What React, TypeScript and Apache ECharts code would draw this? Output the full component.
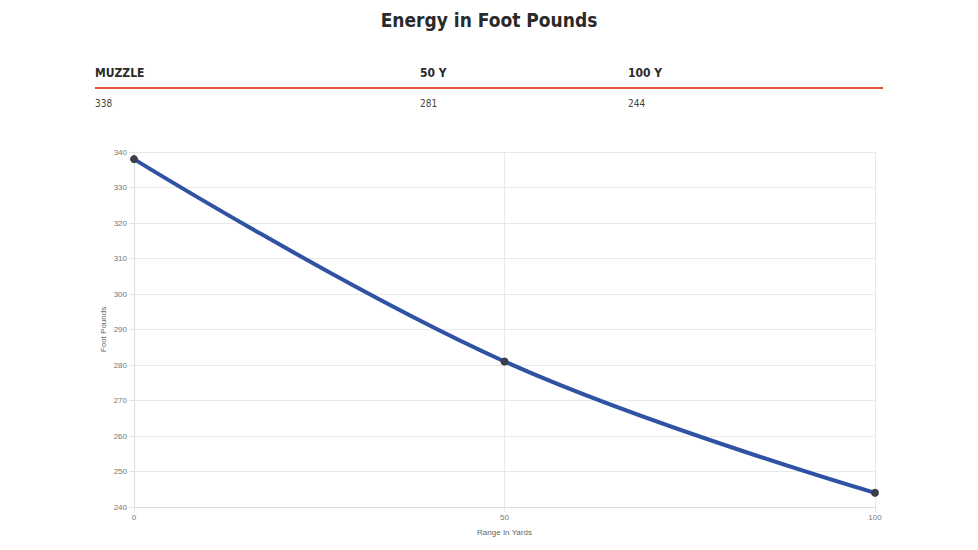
import React, { useEffect, useRef } from "react";
import * as echarts from "echarts";

const ranges = [0, 50, 100];
const energy = [338, 281, 244];
const headerLabels = ["MUZZLE", "50 Y", "100 Y"];
const headerValues = ["338", "281", "244"];
const headerX = [95, 420, 628];

export default function App() {
  const ref = useRef<HTMLDivElement>(null);
  useEffect(() => {
    if (!ref.current) return;
    const chart = echarts.init(ref.current, undefined, { renderer: "svg" });
    const condensed = "'DejaVu Sans Condensed', 'DejaVu Sans', sans-serif";
    const sans = "Liberation Sans, Arial, sans-serif";
    const graphics: any[] = [
      {
        type: "text",
        left: "center",
        top: 10,
        style: {
          text: "Energy in Foot Pounds",
          font: `bold 19px ${condensed}`,
          fill: "#2a2a2a",
        },
      },
      {
        type: "rect",
        shape: { x: 95, y: 87, width: 788, height: 2 },
        style: { fill: "#e1523d" },
      },
    ];
    headerLabels.forEach((h, i) => {
      graphics.push({
        type: "text",
        x: headerX[i],
        y: 67,
        style: { text: h, font: `bold 12px ${condensed}`, fill: "#2a2a2a" },
      });
      graphics.push({
        type: "text",
        x: headerX[i],
        y: 98,
        style: { text: headerValues[i], font: `10px ${condensed}`, fill: "#444" },
      });
    });
    chart.setOption({
      animation: false,
      backgroundColor: "#fff",
      graphic: graphics,
      grid: { left: 134, right: 103, top: 152, bottom: 43 },
      xAxis: {
        type: "value",
        min: 0,
        max: 100,
        interval: 50,
        name: "Range In Yards",
        nameLocation: "middle",
        nameGap: 21,
        nameTextStyle: { color: "#666", fontSize: 8, fontFamily: sans },
        axisLine: { show: true, lineStyle: { color: "#ddd" } },
        axisTick: { show: true, length: 5, lineStyle: { color: "#e6e6e6" } },
        axisLabel: { color: "#777", fontSize: 8, margin: 6, fontFamily: sans },
        splitLine: { show: true, lineStyle: { color: "#e9e9e9" } },
      },
      yAxis: {
        type: "value",
        min: 240,
        max: 340,
        interval: 10,
        name: "Foot Pounds",
        nameLocation: "middle",
        nameGap: 27,
        nameMoveOverlap: false,
        nameTextStyle: { color: "#666", fontSize: 8, fontFamily: sans },
        axisLine: { show: true, lineStyle: { color: "#ddd" } },
        axisTick: { show: true, length: 5, lineStyle: { color: "#e6e6e6" } },
        axisLabel: { color: "#777", fontSize: 8, margin: 7, fontFamily: sans },
        splitLine: { show: true, lineStyle: { color: "#e9e9e9" } },
      },
      series: [
        {
          type: "line",
          data: ranges.map((r, i) => [r, energy[i]]),
          smooth: 0.4,
          symbol: "circle",
          symbolSize: 8,
          itemStyle: { color: "#3a3f4a" },
          lineStyle: { color: "#2f52a3", width: 4 },
          z: 3,
        },
      ],
    });
    return () => chart.dispose();
  }, []);
  return (
    <div
      ref={ref}
      style={{ position: "fixed", left: 0, top: 0, width: 978, height: 550 }}
    />
  );
}
